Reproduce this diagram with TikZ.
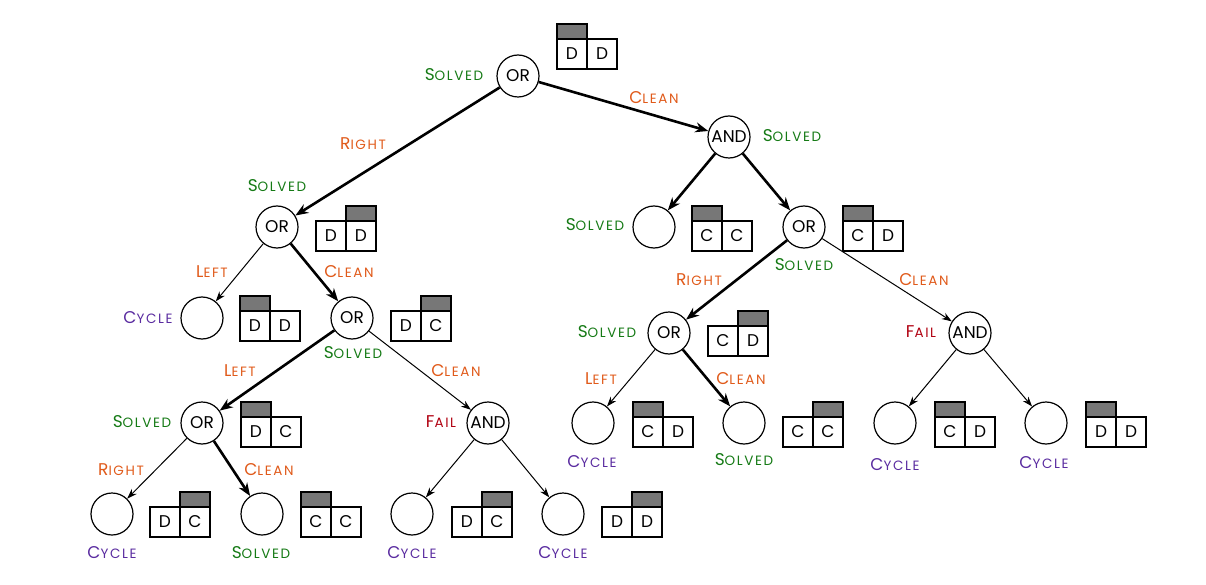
\documentclass[tikz,border=0pt]{standalone}
\usepackage{fontspec}
\setmainfont{Poppins}
\usetikzlibrary{arrows.meta}
\definecolor{solvedc}{HTML}{157A15}
\definecolor{actc}{HTML}{E05A1A}
\definecolor{cyclec}{HTML}{5A2CA0}
\definecolor{failc}{HTML}{B00010}
\definecolor{graycol}{HTML}{777777}
\newcommand\smc[2]{#1{\fontsize{13.5}{14}\selectfont\addfontfeatures{LetterSpace=12}#2}}
\newcommand\lblSolved{\smc{S}{OLVED}}
\newcommand\lblClean{\smc{C}{LEAN}}
\newcommand\lblRight{\smc{R}{IGHT}}
\newcommand\lblLeft{\smc{L}{EFT}}
\newcommand\lblCycle{\smc{C}{YCLE}}
\newcommand\lblFail{\smc{F}{AIL}}
\newcommand\statebox[4]{%
  \begin{scope}[shift={#1}]
    \filldraw[fill=graycol,draw=black,line width=1.3] (#4,-15) rectangle ++(30,15);
    \draw[line width=1.3] (0,0) rectangle (30,30) (30,0) rectangle (60,30);
    \node[boxtxt] at (15,15) {#2};
    \node[boxtxt] at (45,15) {#3};
  \end{scope}}
\begin{document}
\begin{tikzpicture}[x=1pt,y=-1pt,
  st/.style={circle,draw,line width=1.2,minimum size=42,inner sep=0,font=\fontsize{17}{18}\selectfont},
  boxtxt/.style={inner sep=0,font=\fontsize{17}{18}\selectfont},
  lab/.style={inner sep=0,font=\fontsize{17}{18}\selectfont},
  sol/.style={lab,text=solvedc},
  act/.style={lab,text=actc},
  cyc/.style={lab,text=cyclec},
  fail/.style={lab,text=failc},
  bold/.style={line width=2.6,-{Stealth[length=13,width=10]}},
  thin/.style={line width=1.0,-{Stealth[length=10,width=7]}}]
\useasboundingbox (0,0) rectangle (1206,585);
% nodes
\node[st] (root) at (518,76) {OR};
\node[st] (and1) at (729,137) {AND};
\node[st] (orl) at (277,227) {OR};
\node[st] (s2) at (654,227) {};
\node[st] (orr) at (804,227) {OR};
\node[st] (c3) at (202,318) {};
\node[st] (orlr) at (352,318) {OR};
\node[st] (orrr) at (669,333) {OR};
\node[st] (andr) at (970,333) {AND};
\node[st] (orll) at (202,423) {OR};
\node[st] (andl) at (488,423) {AND};
\node[st] (r1) at (593,423) {};
\node[st] (r2) at (744,423) {};
\node[st] (r3) at (895,423) {};
\node[st] (r4) at (1046,423) {};
\node[st] (l1) at (112,514) {};
\node[st] (l2) at (262,514) {};
\node[st] (l3) at (412,514) {};
\node[st] (l4) at (563,514) {};
% edges
\draw[bold] (root) -- (orl);
\draw[bold] (root) -- (and1);
\draw[bold] (and1) -- (s2);
\draw[bold] (and1) -- (orr);
\draw[thin] (orl) -- (c3);
\draw[bold] (orl) -- (orlr);
\draw[bold] (orlr) -- (orll);
\draw[thin] (orlr) -- (andl);
\draw[thin] (orll) -- (l1);
\draw[bold] (orll) -- (l2);
\draw[thin] (andl) -- (l3);
\draw[thin] (andl) -- (l4);
\draw[bold] (orr) -- (orrr);
\draw[thin] (orr) -- (andr);
\draw[thin] (orrr) -- (r1);
\draw[bold] (orrr) -- (r2);
\draw[thin] (andr) -- (r3);
\draw[thin] (andr) -- (r4);
% labels
\node[sol] (t1) at (454,75) {\lblSolved};
\node[act] (t2) at (654,98) {\lblClean};
\node[sol] (t3) at (792,136) {\lblSolved};
\node[act] (t4) at (363,144) {\lblRight};
\node[sol] (t5) at (277,186) {\lblSolved};
\node[sol] (t6) at (595,225) {\lblSolved};
\node[act] (t7) at (212,272) {\lblLeft};
\node[act] (t8) at (349,272) {\lblClean};
\node[cyc] (t9) at (148,318) {\lblCycle};
\node[sol] (t10) at (353,353) {\lblSolved};
\node[act] (t11) at (240,371) {\lblLeft};
\node[act] (t12) at (456,371) {\lblClean};
\node[sol] (t13) at (142,422) {\lblSolved};
\node[fail] (t14) at (441,422) {\lblFail};
\node[act] (t15) at (121,470) {\lblRight};
\node[act] (t16) at (269,470) {\lblClean};
\node[cyc] (t17) at (112,553) {\lblCycle};
\node[sol] (t18) at (261,553) {\lblSolved};
\node[cyc] (t19) at (412,553) {\lblCycle};
\node[cyc] (t20) at (563,553) {\lblCycle};
\node[sol] (t21) at (804,265) {\lblSolved};
\node[act] (t22) at (699,280) {\lblRight};
\node[act] (t23) at (924,280) {\lblClean};
\node[sol] (t24) at (607,332) {\lblSolved};
\node[act] (t25) at (601,379) {\lblLeft};
\node[act] (t26) at (741,379) {\lblClean};
\node[fail] (t27) at (921,332) {\lblFail};
\node[cyc] (t28) at (592,462) {\lblCycle};
\node[sol] (t29) at (744,460) {\lblSolved};
\node[cyc] (t30) at (895,465) {\lblCycle};
\node[cyc] (t31) at (1044,463) {\lblCycle};
% state boxes
\statebox{(557,39)}{D}{D}{0}
\statebox{(316,221)}{D}{D}{30}
\statebox{(240,311)}{D}{D}{0}
\statebox{(391,311)}{D}{C}{30}
\statebox{(241,417)}{D}{C}{0}
\statebox{(150,507)}{D}{C}{30}
\statebox{(301,507)}{C}{C}{0}
\statebox{(452,507)}{D}{C}{30}
\statebox{(602,507)}{D}{D}{30}
\statebox{(692,221)}{C}{C}{0}
\statebox{(843,221)}{C}{D}{0}
\statebox{(708,326)}{C}{D}{30}
\statebox{(633,417)}{C}{D}{0}
\statebox{(783,417)}{C}{C}{30}
\statebox{(935,417)}{C}{D}{0}
\statebox{(1086,417)}{D}{D}{0}
\end{tikzpicture}
\end{document}
